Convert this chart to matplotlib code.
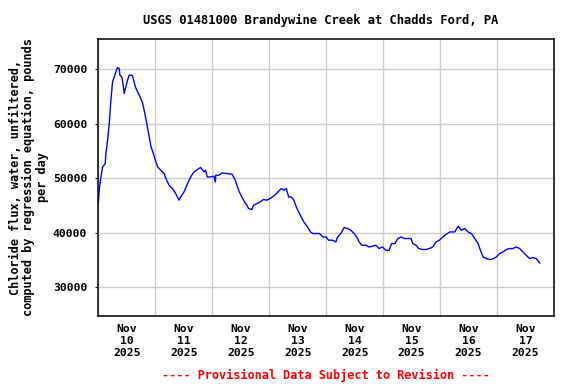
import pandas as pd
import matplotlib
matplotlib.use("Agg")
import matplotlib.pyplot as plt
import matplotlib.dates as mdates

# ------------------------- datos -------------------------
titulo = "USGS 01481000 Brandywine Creek at Chadds Ford, PA"
etiqueta_y = "Chloride flux, water, unfiltered,\ncomputed by regression equation, pounds\nper day"
aviso = "---- Provisional Data Subject to Revision ----"

inicio = "2025-11-10 00:00"
# horas desde el inicio
horas = [
    0.0, 0.5, 1.1, 1.8, 2.9, 3.2, 3.9, 4.6, 5.3, 6.0, 6.7, 7.4, 8.1, 8.8, 9.1,
    9.9, 10.5, 10.9, 11.6, 12.3, 13.0, 14.2, 14.7, 15.6, 16.6, 17.6, 18.7, 19.6,
    20.4, 21.2, 22.2, 23.2, 24.0, 25.0, 26.3, 27.7, 28.8, 29.8, 31.2, 32.6, 34.0,
    34.7, 36.1, 37.6, 38.9, 40.3, 41.7, 43.1, 44.5, 45.2, 45.9, 47.3, 48.7, 49.3,
    49.5, 50.8, 52.1, 54.2, 56.3, 57.4, 58.4, 59.4, 60.5, 61.6, 62.6, 63.3, 64.7,
    65.4, 66.8, 68.2, 69.6, 71.0, 72.4, 74.3, 75.7, 77.1, 78.2, 79.2, 80.2, 81.3,
    82.4, 83.4, 84.4, 85.5, 86.6, 87.6, 88.6, 89.4, 90.4, 91.8, 93.2, 94.6, 96.0,
    97.0, 98.7, 100.1, 100.8, 102.2, 103.6, 105.0, 106.4, 107.8, 109.2, 109.9,
    111.0, 112.7, 114.1, 115.5, 116.9, 118.3, 119.7, 121.1, 122.5, 123.6, 125.0,
    126.2, 127.6, 129.0, 130.4, 131.8, 132.5, 133.9, 135.0, 136.7, 138.1, 139.5,
    140.9, 142.3, 143.7, 145.1, 146.0, 148.1, 150.2, 151.6, 153.0, 154.4, 155.8,
    157.2, 158.6, 160.0, 161.0, 162.1, 163.5, 164.9, 166.3, 167.7, 169.1, 170.5,
    171.9, 173.3, 174.7, 176.1, 177.5, 178.9, 180.3, 181.7, 183.1, 184.5, 186.0,
]
flujo = [
    45600, 48400, 50250, 52100, 52700, 54560, 57000, 60070, 64360, 67720, 68640,
    69560, 70370, 70180, 68950, 68640, 67100, 65590, 66800, 68030, 68950, 68950,
    68350, 66800, 65880, 64960, 63750, 61910, 60070, 58240, 55780, 54560, 53330,
    52100, 51490, 50880, 49650, 48730, 48130, 47210, 45980, 46580, 47500, 49050,
    50260, 51180, 51620, 51990, 51180, 51490, 50260, 50260, 50390, 49340, 50570,
    50570, 51000, 50880, 50760, 49970, 48730, 47500, 46580, 45670, 45060, 44450,
    44270, 45060, 45370, 45670, 46110, 45980, 46290, 46900, 47500, 48130, 47820,
    48130, 46580, 46580, 45980, 44750, 43830, 42910, 41990, 41380, 40780, 40150,
    39860, 39860, 39860, 39230, 39230, 38630, 38630, 38310, 39230, 39860, 40960,
    40780, 40460, 39860, 38940, 38310, 37710, 37710, 37390, 37520, 37710, 37100,
    37390, 36790, 36790, 38020, 38020, 38940, 39230, 38940, 38940, 38940, 38020,
    37710, 37100, 36920, 36920, 37100, 37390, 38310, 38630, 39200, 39540, 40150,
    40150, 41200, 40460, 40780, 40150, 39860, 38940, 38020, 36790, 35560, 35260,
    35080, 35190, 35560, 36180, 36470, 36920, 37100, 37100, 37390, 37100, 36470,
    35870, 35260, 35440, 35260, 34450,
]
ticks_y = [30000, 40000, 50000, 60000, 70000]

# ------------------------------ grafico -------------------------------------
fuente = "DejaVu Sans Mono"
tiempos = pd.Timestamp(inicio) + pd.to_timedelta(horas, unit="h")

fig = plt.figure(figsize=(5.76, 3.84), dpi=100)
ax = fig.add_axes([0.1707, 0.177, 0.7911, 0.7214])

ax.plot(tiempos, flujo, color="#0000ff", linewidth=1.0)

ax.set_xlim(pd.Timestamp("2025-11-10"), pd.Timestamp("2025-11-18"))
ax.set_ylim(24700, 75600)

# lineas de grilla a medianoche, etiquetas al mediodia
ax.xaxis.set_major_locator(mdates.DayLocator())
ax.xaxis.set_major_formatter(plt.NullFormatter())
ax.xaxis.set_minor_locator(mdates.HourLocator(byhour=[12]))
ax.xaxis.set_minor_formatter(mdates.DateFormatter("%b\n%d\n%Y"))
ax.tick_params(axis="x", which="both", length=0, pad=6)
ax.set_yticks(ticks_y)
ax.tick_params(axis="y", length=2, pad=6)

for lbl in ax.get_xticklabels(minor=True) + ax.get_yticklabels():
    lbl.set_fontfamily(fuente)
    lbl.set_fontweight("bold")
    lbl.set_fontsize(8.2)

ax.grid(True, which="major", color="#cccccc", linewidth=1)
ax.set_axisbelow(True)
for s in ax.spines.values():
    s.set_linewidth(1.1)

ax.set_ylabel(etiqueta_y, family=fuente, fontweight="bold", fontsize=8.6,
              linespacing=1.05, labelpad=3)

fig.text(0.556, 0.948, titulo, ha="center", va="center",
         family=fuente, fontweight="bold", fontsize=8.7)
fig.text(0.566, 0.023, aviso, ha="center", va="center", color="red",
         family=fuente, fontweight="bold", fontsize=8.6)

fig.savefig("out.png", dpi=100)
